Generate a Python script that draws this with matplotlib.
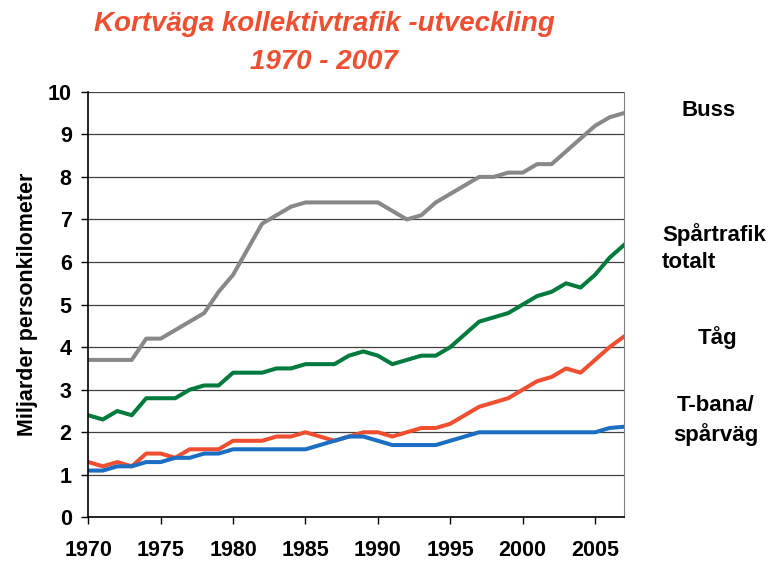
import numpy as np
import matplotlib
matplotlib.use('Agg')
import matplotlib.pyplot as plt

plt.rcParams['font.family'] = ['Liberation Sans', 'DejaVu Sans']

years = list(range(1970, 2008))

buss = [3.7, 3.7, 3.7, 3.7, 4.2, 4.2, 4.4, 4.6, 4.8, 5.3,
        5.7, 6.3, 6.9, 7.1, 7.3, 7.4, 7.4, 7.4, 7.4, 7.4,
        7.4, 7.2, 7.0, 7.1, 7.4, 7.6, 7.8, 8.0, 8.0, 8.1,
        8.1, 8.3, 8.3, 8.6, 8.9, 9.2, 9.4, 9.5]
spartrafik = [2.4, 2.3, 2.5, 2.4, 2.8, 2.8, 2.8, 3.0, 3.1, 3.1,
              3.4, 3.4, 3.4, 3.5, 3.5, 3.6, 3.6, 3.6, 3.8, 3.9,
              3.8, 3.6, 3.7, 3.8, 3.8, 4.0, 4.3, 4.6, 4.7, 4.8,
              5.0, 5.2, 5.3, 5.5, 5.4, 5.7, 6.1, 6.4]
tag = [1.3, 1.2, 1.3, 1.2, 1.5, 1.5, 1.4, 1.6, 1.6, 1.6,
       1.8, 1.8, 1.8, 1.9, 1.9, 2.0, 1.9, 1.8, 1.9, 2.0,
       2.0, 1.9, 2.0, 2.1, 2.1, 2.2, 2.4, 2.6, 2.7, 2.8,
       3.0, 3.2, 3.3, 3.5, 3.4, 3.7, 4.0, 4.25]
tbana = [1.1, 1.1, 1.2, 1.2, 1.3, 1.3, 1.4, 1.4, 1.5, 1.5,
         1.6, 1.6, 1.6, 1.6, 1.6, 1.6, 1.7, 1.8, 1.9, 1.9,
         1.8, 1.7, 1.7, 1.7, 1.7, 1.8, 1.9, 2.0, 2.0, 2.0,
         2.0, 2.0, 2.0, 2.0, 2.0, 2.0, 2.1, 2.13]

fig = plt.figure(figsize=(7.68, 5.63), dpi=100)
ax = fig.add_axes([0.115, 0.081, 0.6975, 0.756])

ax.plot(years, buss, color='#888888', linewidth=2.9, solid_joinstyle='round')
ax.plot(years, spartrafik, color='#007A3D', linewidth=2.9, solid_joinstyle='round')
ax.plot(years, tag, color='#F04E30', linewidth=2.9, solid_joinstyle='round')
ax.plot(years, tbana, color='#1B6EC2', linewidth=2.9, solid_joinstyle='round')

ax.set_xlim(1970, 2007)
ax.set_ylim(0, 10)
ax.set_xticks(range(1970, 2010, 5))
ax.set_yticks(range(0, 11))
ax.grid(axis='y', color='#404040', linewidth=0.9)
ax.set_axisbelow(True)
ax.spines['top'].set_visible(False)
ax.spines['right'].set_color('#808080')
ax.spines['left'].set_linewidth(1.2)
ax.spines['bottom'].set_linewidth(1.2)
ax.tick_params(axis='both', length=5, width=1, labelsize=15.5)
ax.tick_params(axis='x', pad=11)
ax.tick_params(axis='y', pad=7)
for lbl in ax.get_xticklabels() + ax.get_yticklabels():
    lbl.set_fontweight('bold')

ax.set_ylabel('Miljarder personkilometer', fontsize=15.5, fontweight='bold', labelpad=7)

fig.text(0.422, 0.957, 'Kortväga kollektivtrafik -utveckling', color='#F04E30',
         fontsize=20, fontweight='bold', fontstyle='italic', ha='center', va='center')
fig.text(0.422, 0.89, '1970 - 2007', color='#F04E30',
         fontsize=20, fontweight='bold', fontstyle='italic', ha='center', va='center')

fig.text(0.923, 0.803, 'Buss', fontsize=16, fontweight='bold', ha='center', va='center')
fig.text(0.862, 0.56, 'Spårtrafik\ntotalt', fontsize=16, fontweight='bold', ha='left',
         va='center', linespacing=1.35)
fig.text(0.934, 0.40, 'Tåg', fontsize=16, fontweight='bold', ha='center', va='center')
fig.text(0.932, 0.253, 'T-bana/\nspårväg', fontsize=16, fontweight='bold', ha='center',
         va='center', linespacing=1.35)

fig.savefig('out.png', dpi=100)
